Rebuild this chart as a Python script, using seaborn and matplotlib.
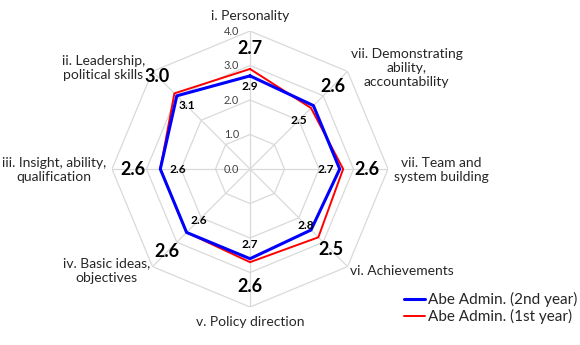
import numpy as np
import pandas as pd
import matplotlib
matplotlib.use("Agg")
import matplotlib.pyplot as plt
import seaborn as sns

# Survey categories, clockwise from the top
categories = [
    "i. Personality",
    "vii. Demonstrating\nability,\naccountability",
    "vii. Team and\nsystem building",
    "vi. Achievements",
    "v. Policy direction",
    "iv. Basic ideas,\nobjectives",
    "iii. Insight, ability,\nqualification",
    "ii. Leadership,\npolitical skills",
]
second_year = [2.7, 2.6, 2.6, 2.5, 2.6, 2.6, 2.6, 3.0]
first_year = [2.9, 2.5, 2.7, 2.8, 2.7, 2.6, 2.6, 3.1]
series_names = ["Abe Admin. (2nd year)", "Abe Admin. (1st year)"]
ring_ticks = [0.0, 1.0, 2.0, 3.0, 4.0]

sns.set_style("white")
plt.rcParams["font.family"] = ["Lato", "DejaVu Sans"]

n = len(categories)
theta = np.arange(n) * 2 * np.pi / n
theta_closed = np.append(theta, 2 * np.pi)

fig = plt.figure(figsize=(5.8, 3.45), dpi=100)
ax = fig.add_axes([0.1931, 0.1101, 0.4759, 0.8], projection="polar")
ax.set_theta_offset(np.pi / 2)
ax.set_theta_direction(-1)
ax.set_ylim(0, 4)
ax.grid(False)
ax.set_xticks([])
ax.set_yticks([])
ax.spines["polar"].set_visible(False)

grid_col = "#d9d9d9"
# octagonal rings and spokes
for r in ring_ticks[1:]:
    ax.plot(theta_closed, [r] * (n + 1), color=grid_col, lw=0.9, zorder=1)
for t in theta:
    ax.plot([t, t], [0, 4], color=grid_col, lw=0.9, zorder=1)

# ring value labels along the top spoke
for r in ring_ticks:
    ax.annotate(f"{r:.1f}", xy=(0, r), xytext=(-11, 0), textcoords="offset pixels",
                ha="right", va="center", fontsize=7.8, color="#404040",
                annotation_clip=False)

df = pd.DataFrame({
    "angle": np.concatenate([theta_closed, theta_closed]),
    "score": second_year + second_year[:1] + first_year + first_year[:1],
    "series": [series_names[0]] * (n + 1) + [series_names[1]] * (n + 1),
})

sns.lineplot(data=df[df.series == series_names[1]], x="angle", y="score",
             color="#ff0000", lw=1.4, sort=False, ax=ax, label=series_names[1], zorder=3)
sns.lineplot(data=df[df.series == series_names[0]], x="angle", y="score",
             color="#0000ff", lw=2.2, sort=False, ax=ax, label=series_names[0], zorder=4)
ax.set_xlabel("")
ax.set_ylabel("")

# value labels
for t, v in zip(theta, second_year):
    ax.text(t, v + 0.8, f"{v:.1f}", ha="center", va="center", fontsize=13,
            fontweight="bold", color="black", zorder=5)
for t, v in zip(theta, first_year):
    ax.text(t, v - 0.5, f"{v:.1f}", ha="center", va="center", fontsize=8.6,
            fontweight="bold", color="black", zorder=5)

# category labels around the outer ring
label_offsets = [(0, 15), (59, 3), (53, -1), (54, -4), (0, -15), (-46, -4), (-58, -1), (-49, 3)]
for t, name, off in zip(theta, categories, label_offsets):
    ax.annotate(name, xy=(t, 4), xytext=off, textcoords="offset pixels",
                ha="center", va="center", multialignment="center", fontsize=10,
                color="#262626", linespacing=1.2, annotation_clip=False)

handles, labels = ax.get_legend_handles_labels()
order = [labels.index(s) for s in series_names]
leg = fig.legend([handles[i] for i in order], [labels[i] for i in order],
                 loc="center left", bbox_to_anchor=(404 / 580, 1 - 308 / 345),
                 frameon=False, fontsize=11, handlelength=1.35, handletextpad=0.2,
                 labelspacing=0.15, borderaxespad=0, borderpad=0)
if ax.get_legend():
    ax.get_legend().remove()

fig.savefig("out.png", dpi=100, facecolor="white")
